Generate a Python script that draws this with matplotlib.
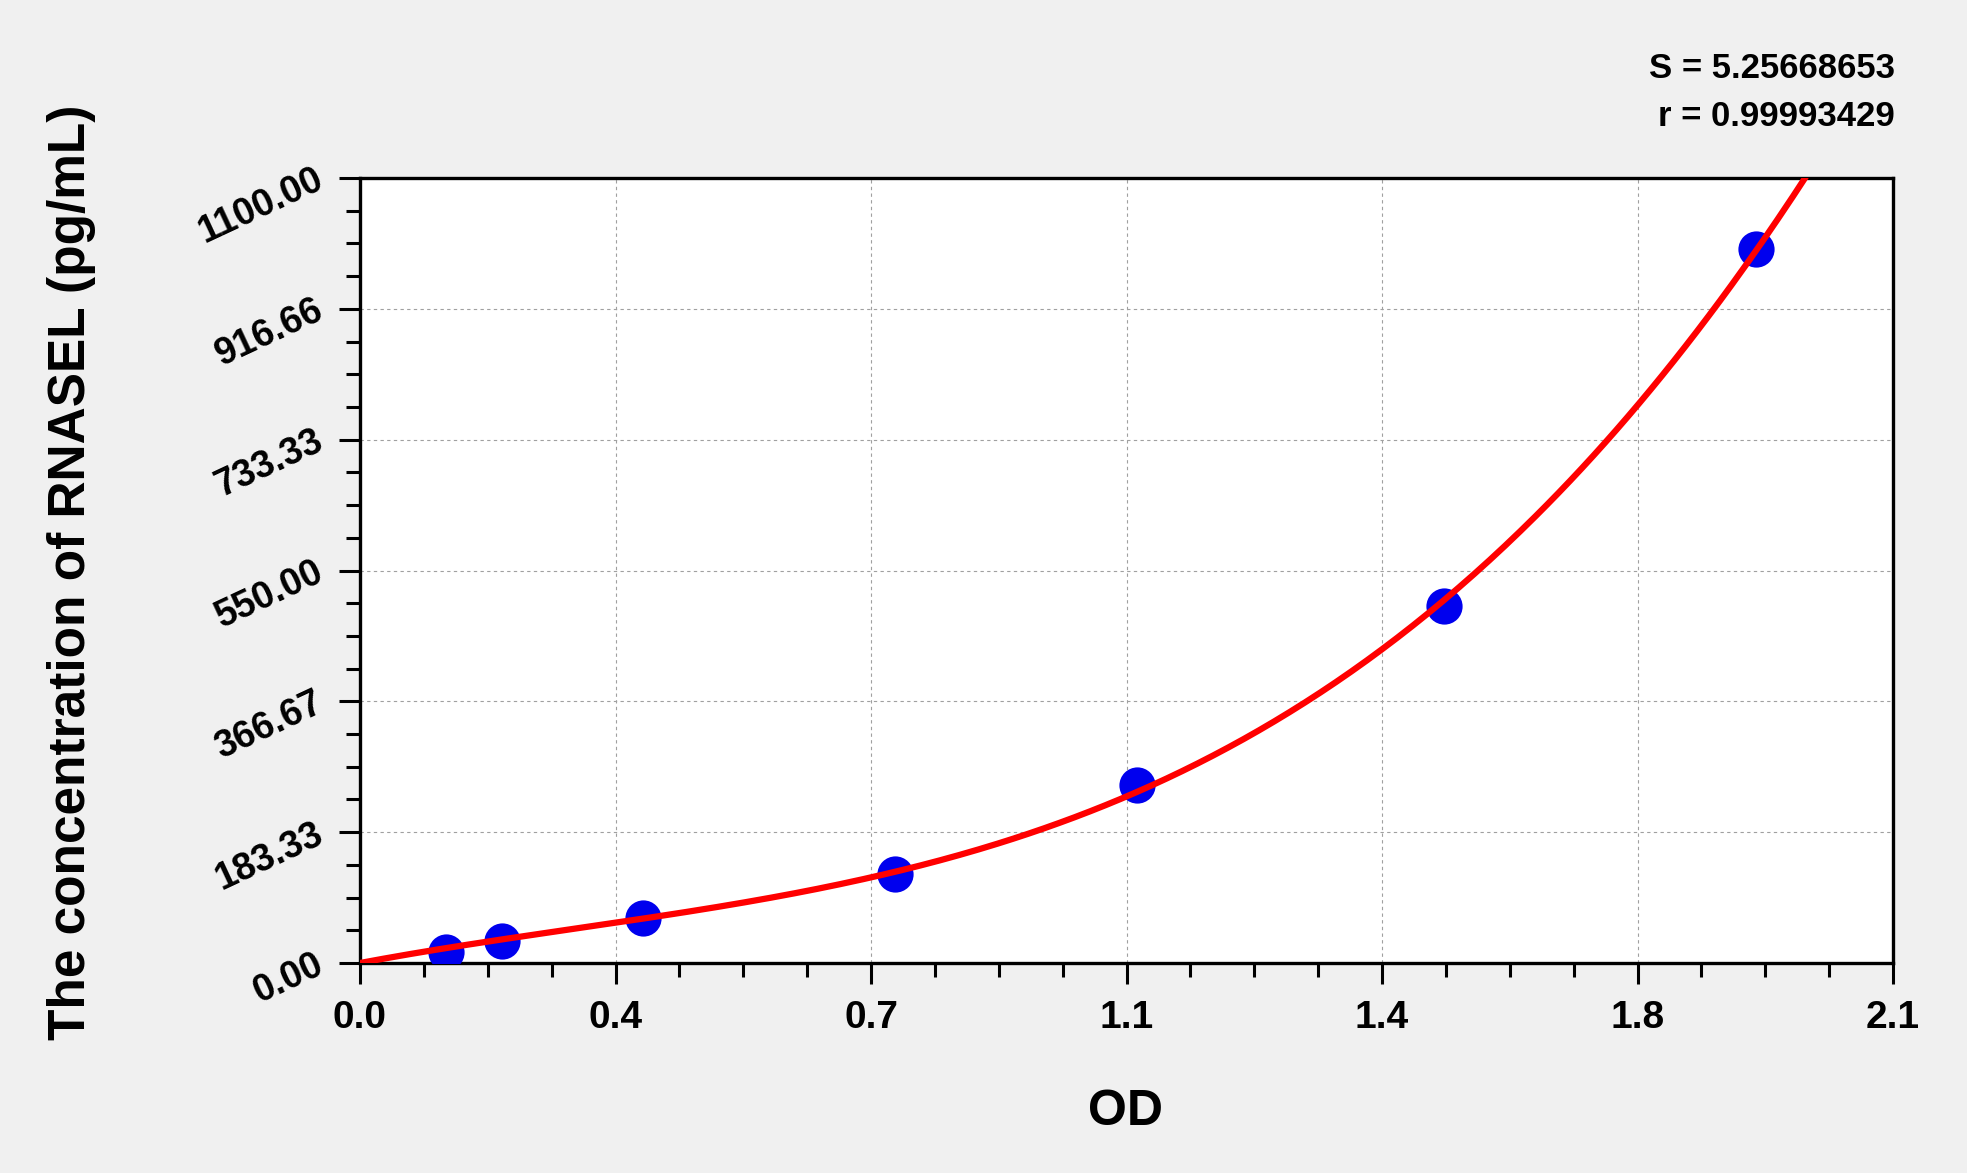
import numpy as np
import matplotlib
matplotlib.use("Agg")
import matplotlib.pyplot as plt
from matplotlib.ticker import MultipleLocator

# standard points
od = [0.118, 0.194, 0.388, 0.733, 1.064, 1.485, 1.912]
conc = [15.6, 31.3, 62.5, 125.0, 250.0, 500.0, 1000.0]

x_ticks = [0.0, 0.35, 0.7, 1.05, 1.4, 1.75, 2.1]
x_labels = ["0.0", "0.4", "0.7", "1.1", "1.4", "1.8", "2.1"]
y_ticks = [0.0, 183.33, 366.67, 550.0, 733.33, 916.66, 1100.0]
y_labels = ["0.00", "183.33", "366.67", "550.00", "733.33", "916.66", "1100.00"]

S_TEXT = "S = 5.25668653"
R_TEXT = "r = 0.99993429"

plt.rcParams['font.family'] = ['Liberation Sans', 'DejaVu Sans']
plt.rcParams['font.weight'] = 'bold'

W, H = 1967, 1173
fig = plt.figure(figsize=(W/100, H/100), dpi=100, facecolor="#f0f0f0")
ax = fig.add_axes([360/W, 1-963/H, 1533/W, 785/H])
ax.set_facecolor("white")

# standard curve: cubic least squares fit forced through the origin
x = np.array(od)
A = np.column_stack([x, x**2, x**3])
coef, *_ = np.linalg.lstsq(A, np.array(conc), rcond=None)
xs = np.linspace(0, 2.1, 400)
ys = coef[0]*xs + coef[1]*xs**2 + coef[2]*xs**3
ax.plot(xs, ys, color="#ff0000", lw=4.5, zorder=4)
ax.scatter(od, conc, s=680, color="#0000ee", zorder=3, linewidths=0)

ax.set_xlim(0, 2.1)
ax.set_ylim(0, 1100)
ax.set_xticks(x_ticks)
ax.set_xticklabels(x_labels)
ax.set_yticks(y_ticks)
ax.set_yticklabels(y_labels)
ax.xaxis.set_minor_locator(MultipleLocator(0.0875))
ax.yaxis.set_minor_locator(MultipleLocator(1100/24))

ax.grid(True, which='major', linestyle=(0, (3, 3)), color="#a0a0a0", lw=0.8)
ax.set_axisbelow(True)

for sp in ax.spines.values():
  sp.set_linewidth(2.4)
ax.tick_params(axis='both', which='major', length=15, width=2.2)
ax.tick_params(axis='both', which='minor', length=10, width=2.2)
ax.tick_params(axis='x', pad=12, labelsize=28)
ax.tick_params(axis='y', pad=13, labelsize=27)
for lab in ax.get_yticklabels():
  lab.set_rotation(25)
  lab.set_rotation_mode('anchor')
  lab.set_ha('right')
  lab.set_va('center')
for lab in ax.get_xticklabels() + ax.get_yticklabels():
  lab.set_fontweight('bold')

fig.text(71.5/W, 1-572/H, "The concentration of RNASEL (pg/mL)", rotation=90,
         ha='center', va='center', fontsize=37, fontweight='bold')
fig.text(1126/W, 1-1112/H, "OD", ha='center', va='center', fontsize=36, fontweight='bold')
fig.text(1895/W, 1-78/H, S_TEXT, ha='right', va='baseline', fontsize=25, fontweight='bold')
fig.text(1895/W, 1-126/H, R_TEXT, ha='right', va='baseline', fontsize=25, fontweight='bold')

fig.savefig('out.png', dpi=100, facecolor=fig.get_facecolor())
